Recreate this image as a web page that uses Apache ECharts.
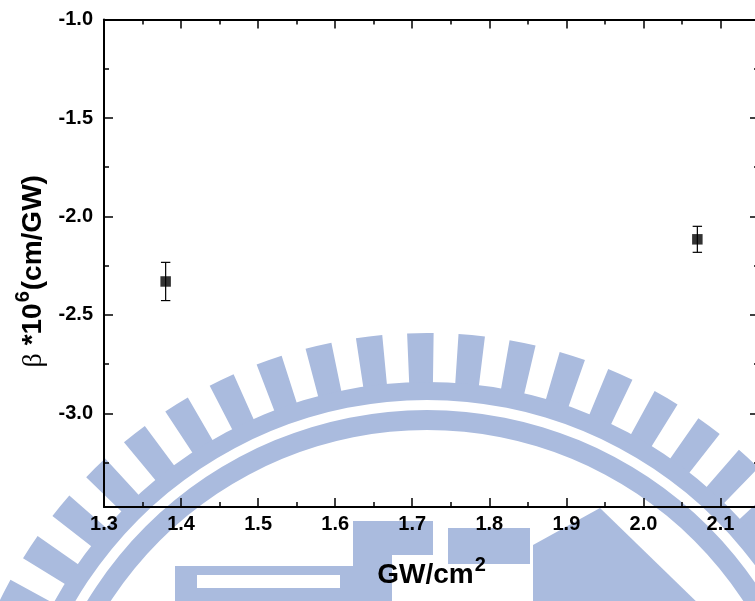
<!DOCTYPE html>
<html>
<head>
<meta charset="utf-8">
<script src="https://cdn.jsdelivr.net/npm/echarts@6/dist/echarts.min.js"></script>
<style>
  html, body { margin: 0; padding: 0; background: #fff; }
  #chart { width: 755px; height: 601px; }
</style>
</head>
<body>
<div id="chart"></div>
<script>
// Measured two-photon absorption coefficient vs. peak intensity
const intensity = [1.38, 2.07];          // GW/cm^2
const beta = [-2.33, -2.116];            // beta x 10^6 (cm/GW)
const betaErr = [0.097, 0.066];          // symmetric error

// Axis ranges and tick positions
const xMin = 1.3, xMax = 2.15;
const yMin = -3.475, yMax = -1.0;
const xTicks = [1.3, 1.4, 1.5, 1.6, 1.7, 1.8, 1.9, 2.0, 2.1];
const xMinorTicks = [1.35, 1.45, 1.55, 1.65, 1.75, 1.85, 1.95, 2.05];
const yTicks = [-3.0, -2.5, -2.0, -1.5, -1.0];
const yMinorTicks = [-3.25, -2.75, -2.25, -1.75, -1.25];

const FONT = 'Liberation Sans';
const INK = '#000';
const WM_COLOR = '#aabbde';

function majorTicks(values) {
  return { show: true, inside: true, length: 9, customValues: values,
           lineStyle: { color: INK, width: 1.5 } };
}
function minorTicks(values) {
  return { show: true, inside: true, length: 5, customValues: values,
           lineStyle: { color: INK, width: 1.5 } };
}
const tickLabel = {
  show: true, color: INK, fontFamily: FONT,
  fontWeight: 'bold', fontSize: 20, formatter: v => Number(v).toFixed(1)
};

function xAxisDef(position, values, minor, labels) {
  return {
    type: 'value', position, min: xMin, max: xMax, gridIndex: 0,
    axisLine: { show: !minor, onZero: false, lineStyle: { color: INK, width: 2 } },
    axisTick: minor ? minorTicks(values) : majorTicks(values),
    axisLabel: labels ? Object.assign({}, tickLabel, { customValues: values, margin: 7 }) : { show: false },
    splitLine: { show: false }
  };
}
function yAxisDef(position, values, minor, labels) {
  return {
    type: 'value', position, min: yMin, max: yMax, gridIndex: 0,
    axisLine: { show: !minor, onZero: false, lineStyle: { color: INK, width: 2 } },
    axisTick: minor ? minorTicks(values) : majorTicks(values),
    axisLabel: labels ? Object.assign({}, tickLabel, { customValues: values, margin: 11 }) : { show: false },
    splitLine: { show: false }
  };
}

const xAxes = [
  xAxisDef('bottom', xTicks, false, true),
  xAxisDef('bottom', xMinorTicks, true, false),
  xAxisDef('top', xTicks, false, false),
  xAxisDef('top', xMinorTicks, true, false)
];
xAxes[0].name = '{t|GW/cm}{sup|2}';
xAxes[0].nameLocation = 'middle';
xAxes[0].nameGap = 48;
xAxes[0].nameTextStyle = {
  rich: {
    t: { fontFamily: FONT, fontWeight: 'bold', fontSize: 28, color: INK, verticalAlign: 'bottom' },
    sup: { fontFamily: FONT, fontWeight: 'bold', fontSize: 20, color: INK, verticalAlign: 'bottom', padding: [0, 0, 14, 1] }
  }
};

const yAxes = [
  yAxisDef('left', yTicks, false, true),
  yAxisDef('left', yMinorTicks, true, false),
  yAxisDef('right', yTicks, false, false),
  yAxisDef('right', yMinorTicks, true, false)
];
yAxes[0].name = '{g|\u03b2}{t| *10}{sup|6}{t|(cm/GW)}';
yAxes[0].nameLocation = 'middle';
yAxes[0].nameGap = 55;
yAxes[0].nameTextStyle = {
  padding: [0, 16, 0, 0],
  rich: {
    g: { fontFamily: 'Liberation Serif', fontSize: 28, color: INK, verticalAlign: 'bottom' },
    t: { fontFamily: FONT, fontWeight: 'bold', fontSize: 28, color: INK, verticalAlign: 'bottom' },
    sup: { fontFamily: FONT, fontWeight: 'bold', fontSize: 20, color: INK, verticalAlign: 'bottom', padding: [0, 1, 14, 1] }
  }
};

// Background university emblem (toothed ring with inner lettering)
function emblem() {
  const cx = 427, cy = 808;
  const els = [];
  const n = 58;
  const half = 1.6 * Math.PI / 180;
  const fill = { fill: WM_COLOR };
  for (let k = 0; k < n; k++) {
    const a = (-0.8 + k * 360 / n) * Math.PI / 180 - Math.PI / 2;
    els.push({ type: 'sector', z: -10, silent: true,
      shape: { cx, cy, r: 475, r0: 420, startAngle: a - half, endAngle: a + half },
      style: fill });
  }
  els.push({ type: 'ring', z: -10, silent: true, shape: { cx, cy, r: 426, r0: 408 }, style: fill });
  els.push({ type: 'ring', z: -10, silent: true, shape: { cx, cy, r: 398, r0: 378 }, style: fill });
  // inner lettering blocks
  els.push({ type: 'rect', z: -10, silent: true, shape: { x: 175, y: 566, width: 178, height: 45 }, style: fill });
  els.push({ type: 'rect', z: -9, silent: true, shape: { x: 197, y: 575, width: 143, height: 13 }, style: { fill: '#fff' } });
  els.push({ type: 'rect', z: -10, silent: true, shape: { x: 353, y: 521, width: 80, height: 34 }, style: fill });
  els.push({ type: 'rect', z: -10, silent: true, shape: { x: 353, y: 521, width: 39, height: 90 }, style: fill });
  els.push({ type: 'rect', z: -10, silent: true, shape: { x: 448, y: 528, width: 82, height: 36 }, style: fill });
  els.push({ type: 'polygon', z: -10, silent: true,
    shape: { points: [[533, 610], [533, 545], [600, 508], [705, 610]] }, style: fill });
  return els;
}

const chart = echarts.init(document.getElementById('chart'), null, { renderer: 'canvas' });
chart.setOption({
  animation: false,
  backgroundColor: '#fff',
  grid: { left: 104, right: -4, top: 19.5, bottom: 94, outerBoundsMode: 'none', containLabel: false },
  xAxis: xAxes,
  yAxis: yAxes,
  graphic: { elements: emblem() },
  series: [
    {
      type: 'custom',
      xAxisIndex: 0, yAxisIndex: 0,
      z: 3,
      data: intensity.map((x, i) => [x, beta[i] - betaErr[i], beta[i] + betaErr[i]]),
      renderItem: function (params, api) {
        const x = api.value(0);
        const lo = api.coord([x, api.value(1)]);
        const hi = api.coord([x, api.value(2)]);
        const cap = 4.7;
        const st = { stroke: INK, lineWidth: 1.2 };
        return {
          type: 'group',
          children: [
            { type: 'line', shape: { x1: lo[0], y1: lo[1], x2: hi[0], y2: hi[1] }, style: st },
            { type: 'line', shape: { x1: hi[0] - cap, y1: hi[1], x2: hi[0] + cap, y2: hi[1] }, style: st },
            { type: 'line', shape: { x1: lo[0] - cap, y1: lo[1], x2: lo[0] + cap, y2: lo[1] }, style: st }
          ]
        };
      }
    },
    {
      type: 'scatter',
      xAxisIndex: 0, yAxisIndex: 0,
      z: 4,
      symbol: 'rect',
      symbolSize: 10.5,
      itemStyle: { color: INK },
      data: intensity.map((x, i) => [x, beta[i]])
    }
  ]
});
</script>
</body>
</html>
